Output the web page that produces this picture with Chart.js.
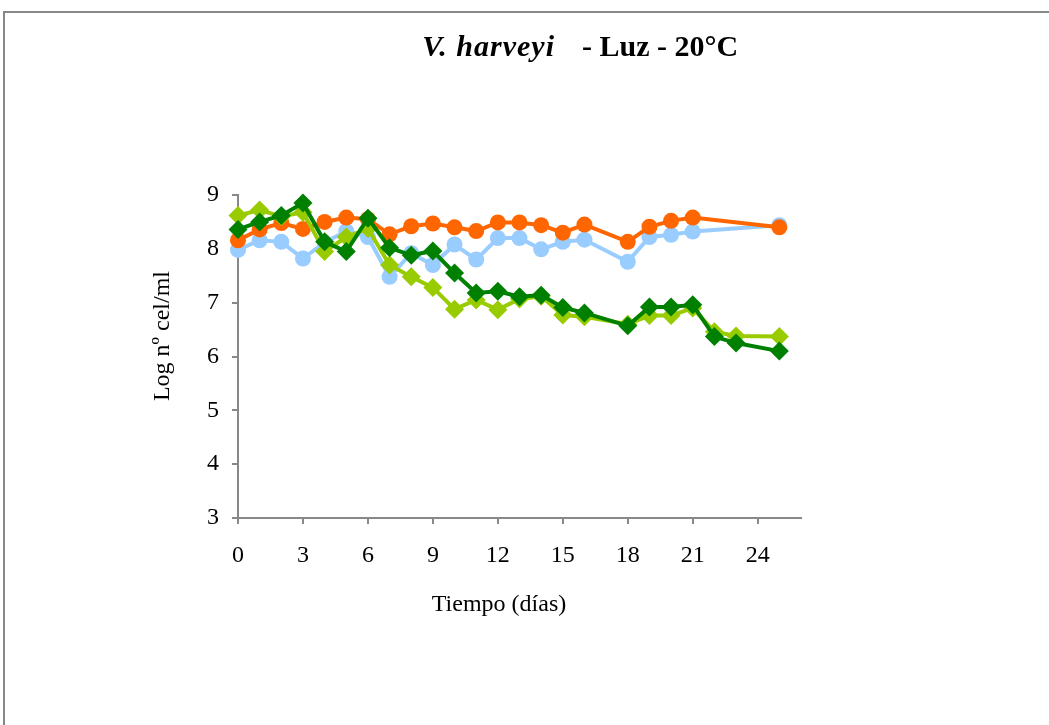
<!DOCTYPE html>
<html>
<head>
<meta charset="utf-8">
<script src="https://cdn.jsdelivr.net/npm/chart.js@4/dist/chart.umd.min.js"></script>
<style>
  html, body { margin: 0; padding: 0; background: #fff; }
  canvas { display: block; }
</style>
</head>
<body>
<canvas id="c" width="1049" height="725"></canvas>
<script>
// ---- data ----
const daysA = [0,1,2,3,4,5,6,7,8,9,10,11,12,13,14,15,16,18,19,20,21,25];
const daysB = [0,1,2,3,4,5,6,7,8,9,10,11,12,13,14,15,16,18,19,20,21,22,23,25];
const orangeVals = [8.16,8.36,8.48,8.37,8.50,8.58,8.55,8.27,8.42,8.47,8.40,8.33,8.49,8.49,8.44,8.30,8.45,8.13,8.41,8.52,8.58,8.40];
const blueVals   = [7.98,8.16,8.13,7.82,8.12,8.33,8.22,7.48,7.92,7.70,8.08,7.80,8.20,8.20,7.99,8.13,8.17,7.76,8.22,8.26,8.32,8.44];
const lightGreenVals = [8.62,8.72,8.60,8.68,7.95,8.22,8.38,7.70,7.48,7.28,6.88,7.05,6.87,7.07,7.12,6.77,6.74,6.60,6.76,6.76,6.90,6.46,6.38,6.37];
const darkGreenVals  = [8.36,8.50,8.62,8.85,8.13,7.95,8.57,8.02,7.88,7.96,7.55,7.18,7.21,7.11,7.14,6.91,6.81,6.57,6.92,6.92,6.96,6.37,6.25,6.10];
const xTicks = [0,3,6,9,12,15,18,21,24];
const yTicks = [3,4,5,6,7,8,9];
const titleItalic = 'V. harveyi';
const titleRest = '- Luz - 20°C';
const xTitle = 'Tiempo (días)';
const yTitle = 'Log nº cel/ml';

const pts = (xs, ys) => xs.map((x, i) => ({x: x, y: ys[i]}));
const SERIF = "'Liberation Serif', 'Times New Roman', serif";

const decor = {
  id: 'decor',
  beforeDraw(chart) {
    const ctx = chart.ctx;
    ctx.save();
    ctx.fillStyle = '#fff';
    ctx.fillRect(0, 0, chart.width, chart.height);
    ctx.strokeStyle = '#888';
    ctx.lineWidth = 2;
    ctx.strokeRect(4, 12, 1200, 900);
    ctx.restore();
  },
  afterDraw(chart) {
    const ctx = chart.ctx;
    ctx.save();
    ctx.fillStyle = '#000';
    ctx.textBaseline = 'alphabetic';
    ctx.font = "italic bold 30px " + SERIF;
    ctx.textAlign = 'right';
    if ('letterSpacing' in ctx) ctx.letterSpacing = '1px';
    ctx.fillText(titleItalic, 555, 56);
    if ('letterSpacing' in ctx) ctx.letterSpacing = '0px';
    ctx.font = "bold 30px " + SERIF;
    ctx.textAlign = 'left';
    ctx.fillText(titleRest, 582, 56);
    ctx.font = "24px " + SERIF;
    ctx.textAlign = 'center';
    ctx.textBaseline = 'middle';
    ctx.fillText(xTitle, 499, 605);
    ctx.translate(163, 336);
    ctx.rotate(-Math.PI / 2);
    ctx.fillText(yTitle, 0, 0);
    ctx.restore();
  }
};

new Chart(document.getElementById('c'), {
  type: 'line',
  data: {
    datasets: [
      { data: pts(daysB, darkGreenVals), borderColor: '#008000', backgroundColor: '#008000',
        pointStyle: 'rectRot', pointRadius: 9.5, borderWidth: 4, pointBorderWidth: 0, clip: false },
      { data: pts(daysB, lightGreenVals), borderColor: '#99CC00', backgroundColor: '#99CC00',
        pointStyle: 'rectRot', pointRadius: 9.5, borderWidth: 4, pointBorderWidth: 0, clip: false },
      { data: pts(daysA, orangeVals), borderColor: '#FF6600', backgroundColor: '#FF6600',
        pointStyle: 'circle', pointRadius: 8, borderWidth: 4, pointBorderWidth: 0, clip: false },
      { data: pts(daysA, blueVals), borderColor: '#99CCFF', backgroundColor: '#99CCFF',
        pointStyle: 'circle', pointRadius: 8, borderWidth: 4, pointBorderWidth: 0, clip: false }
    ]
  },
  options: {
    responsive: false,
    animation: false,
    events: [],
    layout: { padding: { top: 195, right: 248, left: 0, bottom: 0 } },
    plugins: { legend: { display: false }, title: { display: false }, tooltip: { enabled: false } },
    elements: { line: { tension: 0 } },
    scales: {
      x: {
        type: 'linear', position: 'bottom', min: 0, max: 26,
        afterBuildTicks: s => { s.ticks = xTicks.map(v => ({ value: v })); },
        afterFit: s => { s.height = 207; },
        grid: { drawOnChartArea: false, drawTicks: true, tickLength: 6, color: '#888', lineWidth: 2 },
        border: { color: '#888', width: 2 },
        ticks: { color: '#000', font: { family: SERIF, size: 24 }, padding: 17, maxRotation: 0 }
      },
      y: {
        type: 'linear', position: 'left', min: 3, max: 9,
        afterBuildTicks: s => { s.ticks = yTicks.map(v => ({ value: v })); },
        afterFit: s => { s.width = 238; },
        grid: { drawOnChartArea: false, drawTicks: true, tickLength: 6, color: '#888', lineWidth: 2 },
        border: { color: '#888', width: 2 },
        ticks: { color: '#000', font: { family: SERIF, size: 24 }, padding: 13 }
      }
    }
  },
  plugins: [decor]
});
</script>
</body>
</html>
